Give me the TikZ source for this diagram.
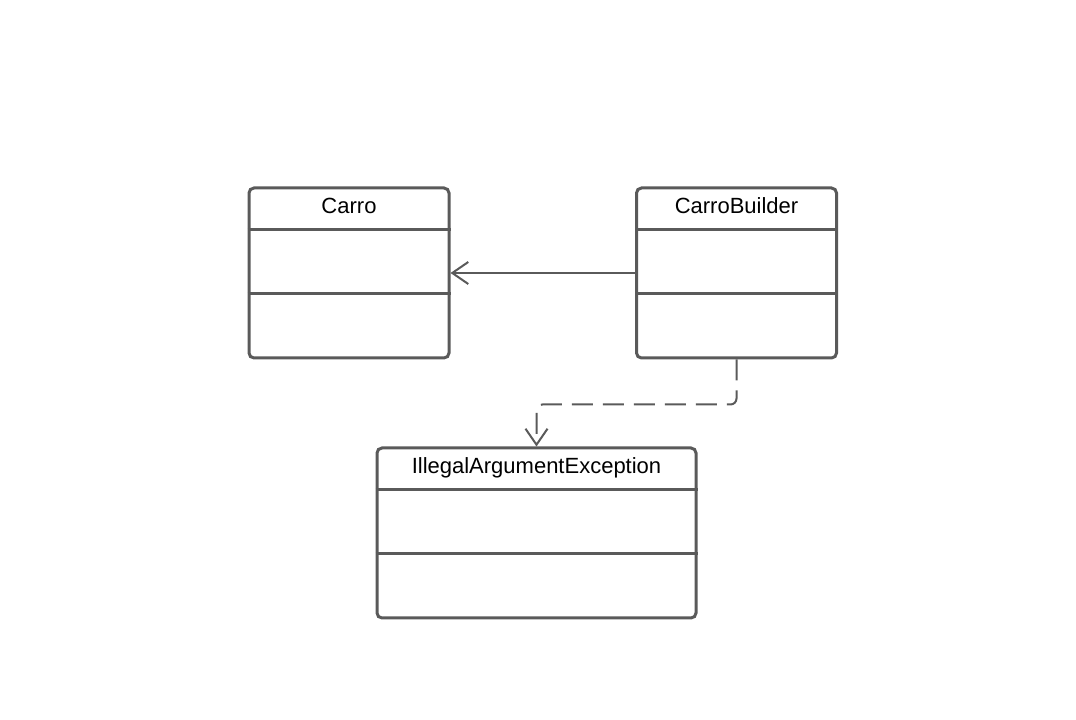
\documentclass[tikz,border=0pt]{standalone}
\usepackage{fontspec}
\setmainfont{Liberation Sans}
\usetikzlibrary{arrows.meta}
\definecolor{umlgray}{HTML}{5A5A5A}
\begin{document}
\begin{tikzpicture}[
    x=1pt, y=1pt,
    classbox/.style={draw=umlgray, line width=3pt, rounded corners=5pt,
                     minimum width=#1, minimum height=170pt, inner sep=0pt},
    classbox/.default=200pt,
    title/.style={font=\fontsize{22}{26}\selectfont, anchor=base, inner sep=0pt},
    sep/.style={draw=umlgray, line width=3pt},
    assoc/.style={draw=umlgray, line width=2pt,
                  -{Straight Barb[length=16pt, width=22pt, line width=2pt]}},
    dep/.style={assoc, dash pattern=on 21pt off 10pt, rounded corners=6pt},
]
\useasboundingbox (0,0) rectangle (1076,720);

% classes
\node[classbox] (carro) at (349, 447) {};
\node[title] (carrotitle) at ([yshift=-27.5pt]carro.north) {Carro};
\draw[sep] ([yshift=-43.5pt]carro.north west) -- ([yshift=-43.5pt]carro.north east);
\draw[sep] ([yshift=-107.5pt]carro.north west) -- ([yshift=-107.5pt]carro.north east);

\node[classbox] (builder) at (736.5, 447) {};
\node[title] (buildertitle) at ([yshift=-27.5pt]builder.north) {CarroBuilder};
\draw[sep] ([yshift=-43.5pt]builder.north west) -- ([yshift=-43.5pt]builder.north east);
\draw[sep] ([yshift=-107.5pt]builder.north west) -- ([yshift=-107.5pt]builder.north east);

\node[classbox=319pt] (exception) at (536.5, 187) {};
\node[title] (exceptiontitle) at ([yshift=-27.5pt]exception.north) {IllegalArgumentException};
\draw[sep] ([yshift=-43.5pt]exception.north west) -- ([yshift=-43.5pt]exception.north east);
\draw[sep] ([yshift=-107.5pt]exception.north west) -- ([yshift=-107.5pt]exception.north east);

% relations
\draw[assoc] (builder.west) -- (carro.east);
\draw[dep] (builder.south) -- ++(0,-45) -| (exception.north);
\end{tikzpicture}
\end{document}
